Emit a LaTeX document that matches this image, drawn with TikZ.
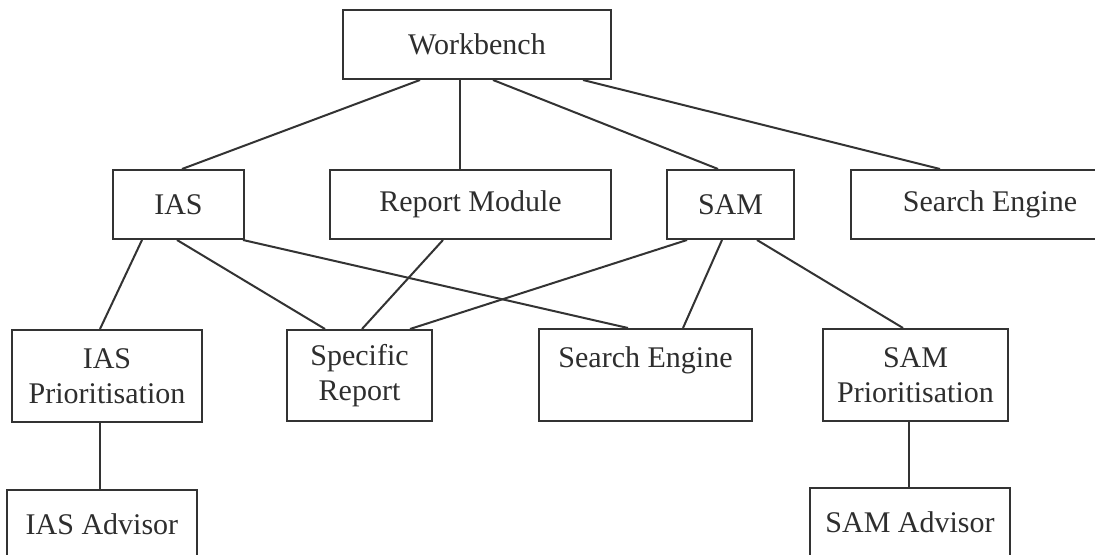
\documentclass[tikz,border=0pt]{standalone}
\usepackage{fontspec}
\setmainfont{Liberation Serif}
\usetikzlibrary{calc}
\definecolor{ink}{HTML}{333333}
\tikzset{
  box/.style={draw=ink, line width=1pt, inner sep=0pt, align=center,
    font=\fontsize{15}{17.5}\selectfont, text=ink!90!black},
  link/.style={draw=ink, line width=1pt},
}
\begin{document}
\begin{tikzpicture}[x=0.5pt,y=-0.5pt]
\path[use as bounding box, clip] (0,0) rectangle (1095,555);
\fill[white] (0,0) rectangle (1095,555);

% top level
\node[box, minimum width=134pt, minimum height=34.5pt] (wb) at (477,44.5) {Workbench};

% second level
\node[box, minimum width=65.5pt, minimum height=34.5pt] (ias) at (178.5,204.5) {IAS};
\node[box, minimum width=140.5pt, minimum height=34.5pt] (rm) at (470.5,204.5) {Report Module};
\node[box, minimum width=63.5pt, minimum height=34.5pt] (sam) at (730.5,204.5) {SAM};
\node[box, minimum width=139pt, minimum height=34.5pt] (se1) at (990,204.5) {Search Engine};

% third level
\node[box, minimum width=95pt, minimum height=46pt] (iasp) at (107,376) {IAS\\Prioritisation};
\node[box, minimum width=72.5pt, minimum height=45.5pt] (sr) at (359.5,375.5) {Specific\\Report};
\node[box, minimum width=106.5pt, minimum height=46pt] (se2) at (645.5,375) {Search Engine\\\mbox{}};
\node[box, minimum width=92.5pt, minimum height=46pt] (samp) at (915.5,375) {SAM\\Prioritisation};

% fourth level
\node[box, minimum width=95pt, minimum height=34.5pt] (iasa) at (102,524.5) {IAS Advisor};
\node[box, minimum width=100pt, minimum height=34.5pt] (sama) at (910,522.5) {SAM Advisor};

% connectors
\draw[link] ($(wb.south)+(-57,0)$) -- ($(ias.north)+(3.5,0)$);
\draw[link] ($(wb.south)+(-17,0)$) -- ($(rm.north)+(-10.5,0)$);
\draw[link] ($(wb.south)+(16,0)$) -- ($(sam.north)+(-12.5,0)$);
\draw[link] ($(wb.south)+(106,0)$) -- ($(se1.north)+(-50,0)$);

\draw[link] ($(ias.south)+(-36.5,0)$) -- ($(iasp.north)+(-7,0)$);
\draw[link] ($(ias.south)+(-1.5,0)$) -- ($(sr.north)+(-34.5,0)$);
\draw[link] ($(ias.south)+(64.5,0)$) -- ($(se2.north)+(-17.5,0)$);
\draw[link] ($(rm.south)+(-27.5,0)$) -- ($(sr.north)+(2.5,0)$);
\draw[link] ($(sam.south)+(-43.5,0)$) -- ($(sr.north)+(50.5,0)$);
\draw[link] ($(sam.south)+(-8.5,0)$) -- ($(se2.north)+(37.5,0)$);
\draw[link] ($(sam.south)+(26.5,0)$) -- ($(samp.north)+(-12.5,0)$);

\draw[link] ($(iasp.south)+(-7,0)$) -- ($(iasa.north)+(-2,0)$);
\draw[link] ($(samp.south)+(-6.5,0)$) -- ($(sama.north)+(-1,0)$);
\end{tikzpicture}
\end{document}
